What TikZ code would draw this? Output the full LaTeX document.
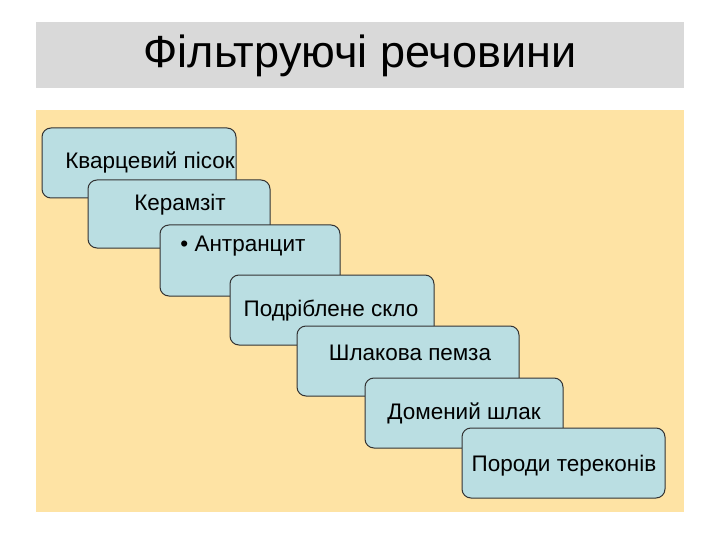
\documentclass[tikz,border=0pt]{standalone}
\usepackage{fontspec}
\setmainfont{Liberation Sans}
\definecolor{boxc}{RGB}{186,222,226}
\definecolor{bandc}{RGB}{217,217,217}
\definecolor{panelc}{RGB}{254,227,164}
\begin{document}
\begin{tikzpicture}[x=1pt,y=-1pt,
  bx/.style={draw=black!80,line width=1pt,fill=boxc,rounded corners=9pt},
  lbl/.style={font=\fontsize{22.5}{26}\selectfont}]
\useasboundingbox (0,0) rectangle (720,540);
\fill[white] (0,0) rectangle (720,540);
\fill[bandc] (36,22) rectangle (684,88);
\node (title) at (360,56) {\fontsize{45}{50}\selectfont Фільтруючі речовини};
\fill[panelc] (36,110) rectangle (684,512);
\def\bxx#1#2#3#4#5#6#7#8{\draw[bx] (#2,#3) rectangle (#4,#5); \node[lbl] (#1) at (#6,#7) {#8};}
\bxx{a}{42}{128}{236}{198}{150}{162}{Кварцевий пісок}
\bxx{b}{88}{180}{270}{248}{180}{205}{Керамзіт}
\bxx{c}{160}{225}{340}{296}{243}{246}{• Антранцит}
\bxx{d}{230}{275}{434}{345}{331}{311}{Подріблене скло}
\bxx{e}{297}{326}{519}{396}{410}{353}{Шлакова пемза}
\bxx{f}{365}{378}{563}{448}{464}{413}{Домений шлак}
\bxx{g}{462}{428}{665}{498}{564}{466}{Породи тереконів}
\end{tikzpicture}
\end{document}
